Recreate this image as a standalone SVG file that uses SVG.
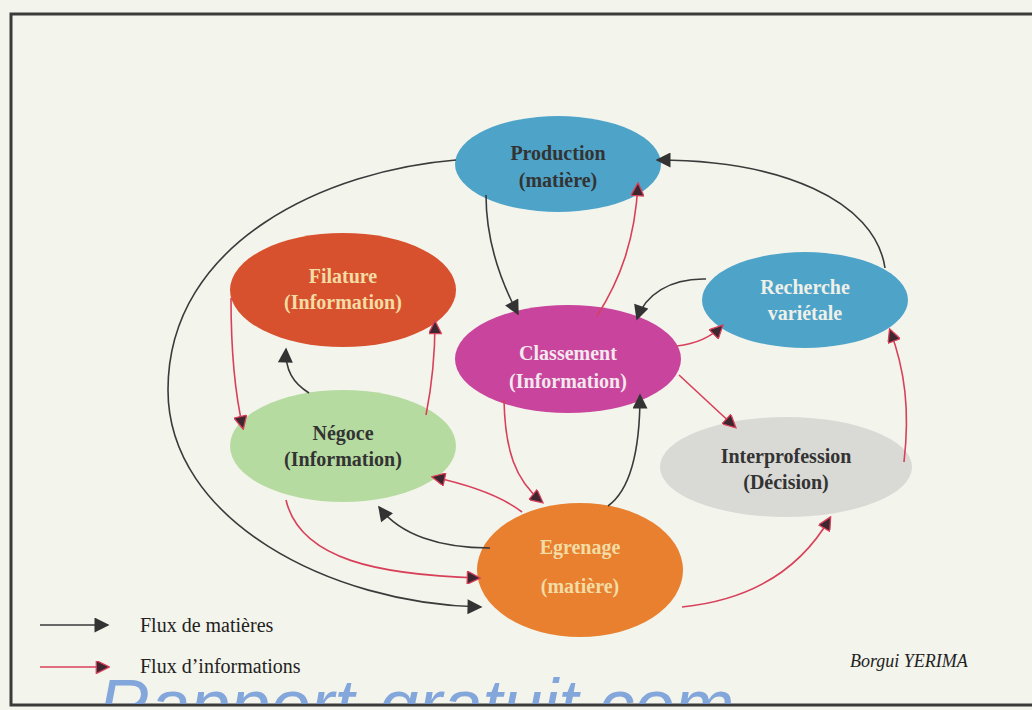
<svg xmlns="http://www.w3.org/2000/svg" width="1032" height="710" viewBox="0 0 1032 710">
<defs>
<marker id="ab" viewBox="0 0 10 10" refX="9" refY="5" markerWidth="17" markerHeight="15" markerUnits="userSpaceOnUse" orient="auto"><path d="M0,0 L10,5 L0,10 Z" fill="#333"/></marker>
<marker id="ar" viewBox="0 0 10 10" refX="9" refY="5" markerWidth="15" markerHeight="13" markerUnits="userSpaceOnUse" orient="auto"><path d="M0,0 L10,5 L0,10 Z" fill="#3d2630" stroke="#d8405a" stroke-width="1"/></marker>
<clipPath id="frameclip"><rect x="12" y="15" width="1020" height="689"/></clipPath>
</defs>
<style>
.b{fill:none;stroke:#3a3a3a;stroke-width:1.6}
.r{fill:none;stroke:#d8405a;stroke-width:1.6}
.t{font-family:"Liberation Serif",serif;font-weight:bold;font-size:20px;text-anchor:middle}
.dk{fill:#333}
.lt{fill:#f2dca4}
.wh{fill:#f2e8ee}
.lg{font-family:"Liberation Serif",serif;font-size:20px;fill:#222}
</style>
<rect width="1032" height="710" fill="#f3f4ec"/>
<rect x="11" y="14" width="1030" height="691" fill="none" stroke="#3a3a3a" stroke-width="3"/>

<g id="n-production"><ellipse cx="558" cy="164" rx="103" ry="48" fill="#4ea3c8"/><text class="t dk" x="558" y="160">Production</text><text class="t dk" x="558" y="187">(matière)</text></g>
<g id="n-filature"><ellipse cx="343" cy="290" rx="113" ry="57" fill="#d8512e"/><text class="t lt" x="343" y="283">Filature</text><text class="t lt" x="343" y="309">(Information)</text></g>
<g id="n-negoce"><ellipse cx="343" cy="446" rx="113" ry="56" fill="#b6dba0"/><text class="t dk" x="343" y="440">Négoce</text><text class="t dk" x="343" y="466">(Information)</text></g>
<g id="n-classement"><ellipse cx="568" cy="359" rx="113" ry="54" fill="#c9449c"/><text class="t wh" x="568" y="360">Classement</text><text class="t wh" x="568" y="388">(Information)</text></g>
<g id="n-recherche"><ellipse cx="805" cy="300" rx="103" ry="48" fill="#4ea3c8"/><text class="t" fill="#eef0ea" x="805" y="294">Recherche</text><text class="t" fill="#eef0ea" x="805" y="320">variétale</text></g>
<g id="n-interprofession"><ellipse cx="786" cy="467" rx="126" ry="50" fill="#d9d9d5"/><text class="t dk" x="786" y="463">Interprofession</text><text class="t dk" x="786" y="489">(Décision)</text></g>
<g id="n-egrenage"><ellipse cx="580" cy="570" rx="103" ry="67" fill="#e8802f"/><text class="t lt" x="580" y="554">Egrenage</text><text class="t lt" x="580" y="593">(matière)</text></g>

<g id="connectors">
<path class="b" marker-end="url(#ab)" d="M456 160 C330 170 168 240 168 390 C168 520 330 604 481 607"/>
<path class="b" marker-end="url(#ab)" d="M486 195 C486 240 500 280 518 314"/>
<path class="b" marker-end="url(#ab)" d="M885 268 C875 200 780 160 657 160"/>
<path class="b" marker-end="url(#ab)" d="M706 279 C670 278 645 295 637 319"/>
<path class="b" marker-end="url(#ab)" d="M309 393 C293 383 285 370 286 349"/>
<path class="b" marker-end="url(#ab)" d="M490 548 C440 548 400 535 379 507"/>
<path class="b" marker-end="url(#ab)" d="M608 506 C630 490 640 450 640 395"/>

<path class="r" marker-end="url(#ar)" d="M231 298 C231 350 234 390 243 428"/>
<path class="r" marker-end="url(#ar)" d="M426 415 C433 380 435 350 435 322"/>
<path class="r" marker-end="url(#ar)" d="M597 316 C620 280 635 240 638 184"/>
<path class="r" marker-end="url(#ar)" d="M677 346 C695 344 710 338 722 326"/>
<path class="r" marker-end="url(#ar)" d="M679 375 L735 427"/>
<path class="r" marker-end="url(#ar)" d="M904 462 C910 410 905 370 890 330"/>
<path class="r" marker-end="url(#ar)" d="M682 607 C750 600 800 570 830 518"/>
<path class="r" marker-end="url(#ar)" d="M504 400 C505 450 515 480 542 502"/>
<path class="r" marker-end="url(#ar)" d="M522 512 C500 495 470 485 433 477"/>
<path class="r" marker-end="url(#ar)" d="M286 500 C300 560 380 575 479 578"/>
</g>

<g id="legend">
<path class="b" stroke-width="2.5" marker-end="url(#ab)" d="M40 625 L108 625"/>
<text class="lg" x="140" y="632">Flux de matières</text>
<path class="r" stroke-width="2.5" marker-end="url(#ar)" d="M40 667 L108 667"/>
<text class="lg" x="140" y="673">Flux d’informations</text>
<text x="850" y="667" font-family="Liberation Serif,serif" font-style="italic" font-size="18" fill="#222">Borgui YERIMA</text>
</g>
<g clip-path="url(#frameclip)">
<text x="98" y="730" font-family="Liberation Sans,sans-serif" font-style="italic" font-size="72" fill="#6e98d8" fill-opacity="0.85">Rapport-gratuit.com</text>
</g>
</svg>
